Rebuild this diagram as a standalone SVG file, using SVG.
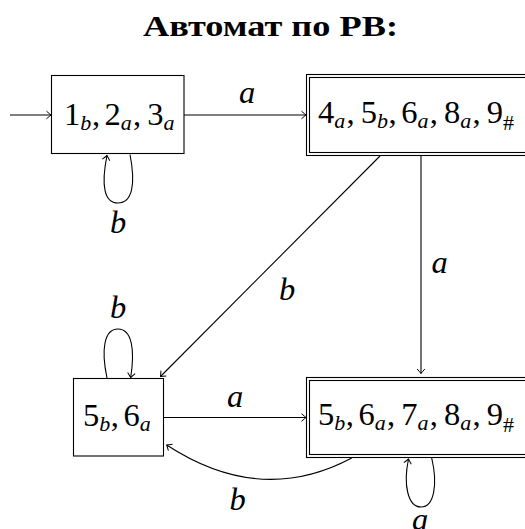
<svg xmlns="http://www.w3.org/2000/svg" width="525" height="529" viewBox="0 0 525 529">
<defs>
<style>
.t{font-family:"Liberation Serif","DejaVu Serif",serif;font-size:32.5px;fill:#000}
.s{font-size:22px;font-style:italic}
.h{font-size:22px;font-style:normal}
.lbl{font-family:"Liberation Serif","DejaVu Serif",serif;font-size:32.5px;font-style:italic;fill:#000;text-anchor:middle}
.box{fill:#fff;stroke:#000;stroke-width:1.1}
.edge{fill:none;stroke:#000;stroke-width:1.1;marker-end:url(#arr)}
.title{font-family:"Liberation Serif","DejaVu Serif",serif;font-weight:bold;font-size:29px;fill:#000;text-anchor:middle}
</style>
<marker id="arr" viewBox="-6 -5 8 10" refX="0" refY="0" markerWidth="8" markerHeight="10" markerUnits="userSpaceOnUse" orient="auto">
<path d="M-4.5,-3.8 Q-1.2,-1 0,0 Q-1.2,1 -4.5,3.8" fill="none" stroke="#000" stroke-width="1"/>
</marker>
</defs>
<rect width="525" height="529" fill="#fff"/>
<text class="title" x="270.5" y="36" textLength="255" lengthAdjust="spacingAndGlyphs">Автомат по РВ:</text>

<g id="edges">
<path class="edge" d="M10,115 L51,115"/>
<path class="edge" d="M184,115 L306,115"/>
<path class="edge" d="M130,154.5 C136,185 132,203 118,203 C104,203 101,185 107,155.5"/>
<path class="edge" d="M380,156 L160.5,376.5"/>
<path class="edge" d="M421,156 L421,373.5"/>
<path class="edge" d="M107,378 C101,350 104,329 118,329 C132,329 135,350 130.7,377.5"/>
<path class="edge" d="M164,417.5 L306,417.5"/>
<path class="edge" d="M351.7,458 Q260.8,506.5 166.7,445"/>
<path class="edge" d="M431.7,458 C438,485 434,507 421,507 C408,507 403,485 408.5,459"/>
</g>

<g id="labels">
<text class="lbl" x="247" y="103">a</text>
<text class="lbl" x="118" y="233">b</text>
<text class="lbl" x="287" y="300">b</text>
<text class="lbl" x="439.7" y="272.7">a</text>
<text class="lbl" x="118" y="318">b</text>
<text class="lbl" x="235" y="406.7">a</text>
<text class="lbl" x="237.7" y="510">b</text>
<text class="lbl" x="420" y="530">a</text>
</g>

<g id="n1">
<rect class="box" x="51.5" y="75.5" width="132.5" height="78"/>
<text class="t" y="124.5"><tspan x="64">1</tspan><tspan class="s" x="80.2" dy="5">b</tspan><tspan x="92" dy="-5">,</tspan><tspan x="104.5">2</tspan><tspan class="s" x="120.7" dy="5">a</tspan><tspan x="133" dy="-5">,</tspan><tspan x="147.2">3</tspan><tspan class="s" x="163.4" dy="5">a</tspan></text>
</g>

<g id="n2">
<rect class="box" x="306.5" y="74.5" width="230" height="81"/>
<rect class="box" x="309.5" y="77.5" width="224" height="75"/>
<text class="t" y="123"><tspan x="318">4</tspan><tspan class="s" x="334.2" dy="5">a</tspan><tspan x="346.5" dy="-5">,</tspan><tspan x="360.7">5</tspan><tspan class="s" x="377" dy="5">b</tspan><tspan x="388.6" dy="-5">,</tspan><tspan x="401.2">6</tspan><tspan class="s" x="417.5" dy="5">a</tspan><tspan x="429.8" dy="-5">,</tspan><tspan x="444">8</tspan><tspan class="s" x="460.2" dy="5">a</tspan><tspan x="472.5" dy="-5">,</tspan><tspan x="486.7">9</tspan><tspan class="h" x="503" dy="6.5">#</tspan></text>
</g>

<g id="n3">
<rect class="box" x="73.5" y="378.5" width="90" height="77.5"/>
<text class="t" y="425.7"><tspan x="83">5</tspan><tspan class="s" x="99.2" dy="5">b</tspan><tspan x="110.8" dy="-5">,</tspan><tspan x="123.5">6</tspan><tspan class="s" x="139.7" dy="5">a</tspan></text>
</g>

<g id="n4">
<rect class="box" x="306.5" y="377.5" width="230" height="80"/>
<rect class="box" x="309.5" y="380.5" width="224" height="74"/>
<text class="t" y="425"><tspan x="318">5</tspan><tspan class="s" x="334.2" dy="5">b</tspan><tspan x="345.8" dy="-5">,</tspan><tspan x="358.5">6</tspan><tspan class="s" x="374.7" dy="5">a</tspan><tspan x="387" dy="-5">,</tspan><tspan x="401.2">7</tspan><tspan class="s" x="417.5" dy="5">a</tspan><tspan x="429.8" dy="-5">,</tspan><tspan x="444">8</tspan><tspan class="s" x="460.2" dy="5">a</tspan><tspan x="472.5" dy="-5">,</tspan><tspan x="486.7">9</tspan><tspan class="h" x="503" dy="6.5">#</tspan></text>
</g>
</svg>
